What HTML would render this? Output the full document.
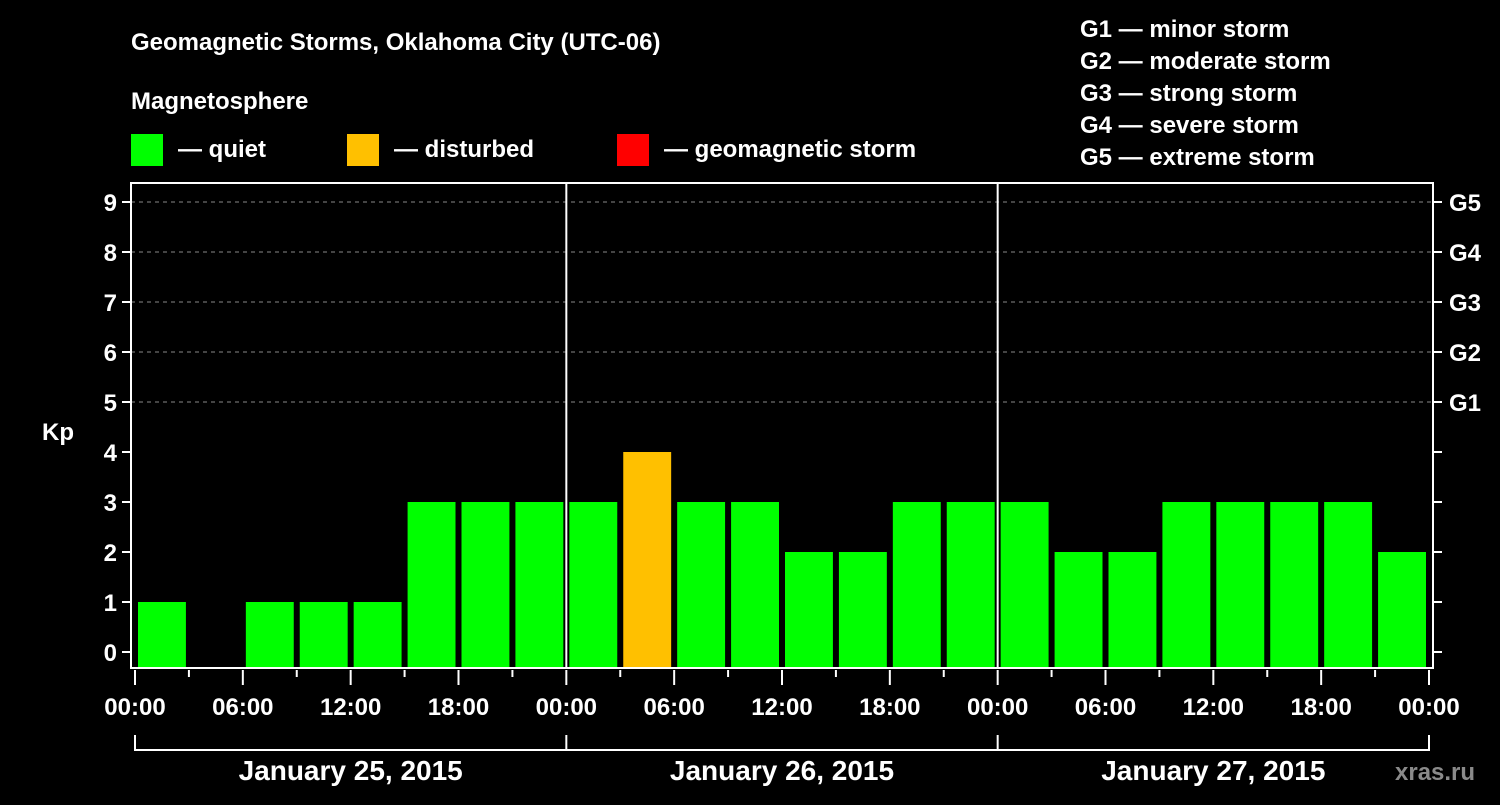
<!DOCTYPE html>
<html><head><meta charset="utf-8"><style>
body{margin:0;background:#000;}
svg text{font-family:"Liberation Sans",Arial,sans-serif;font-weight:bold;fill:#fff;}
</style></head><body>
<svg width="1500" height="800" xmlns="http://www.w3.org/2000/svg">
<rect width="1500" height="800" fill="#000"/>
<text x="131" y="50" font-size="24">Geomagnetic Storms, Oklahoma City (UTC-06)</text>
<text x="131" y="109" font-size="24">Magnetosphere</text>
<g><rect x="131" y="134" width="32" height="32" fill="#00ff00"/><text x="178" y="157" font-size="24">— quiet</text></g>
<g><rect x="347" y="134" width="32" height="32" fill="#ffc000"/><text x="394" y="157" font-size="24">— disturbed</text></g>
<g><rect x="617" y="134" width="32" height="32" fill="#ff0000"/><text x="664" y="157" font-size="24">— geomagnetic storm</text></g>
<g font-size="24">
<text x="1080" y="37">G1 — minor storm</text>
<text x="1080" y="69">G2 — moderate storm</text>
<text x="1080" y="101">G3 — strong storm</text>
<text x="1080" y="133">G4 — severe storm</text>
<text x="1080" y="165">G5 — extreme storm</text>
</g>
<text x="42" y="440" font-size="24">Kp</text>
<g id="grid"></g><g id="bars"></g><g id="axes"></g>
<text x="1395" y="780" font-size="24" fill="#888" style="fill:#8a8a8a">xras.ru</text>
</svg>
<script>
const kpValues=[1,0,1,1,1,3,3,3, 3,4,3,3,2,2,3,3, 3,2,2,3,3,3,3,2];
const dayLabels=["January 25, 2015","January 26, 2015","January 27, 2015"];
const hourLabels=["00:00","06:00","12:00","18:00"];
const gLabels=["G1","G2","G3","G4","G5"];
const NS="http://www.w3.org/2000/svg";
const X0=135,X1=1429,PT=183,PB=668,PL=131,PR=1433;
const xs=h=>X0+(X1-X0)*h/72;
const ys=v=>652-50*v;
function mk(tag,attrs,parent){const e=document.createElementNS(NS,tag);for(const k in attrs)e.setAttribute(k,attrs[k]);parent.appendChild(e);return e;}
const grid=document.getElementById('grid'),bars=document.getElementById('bars'),axes=document.getElementById('axes');
for(let v=5;v<=9;v++){const l=mk('line',{x1:PL,x2:PR,y1:ys(v),y2:ys(v),stroke:'#888','stroke-dasharray':'4,4','stroke-width':1},grid);

}
kpValues.forEach((v,i)=>{
 const x=xs(i*3)+3,w=xs(i*3+3)-xs(i*3)-6;
 const top=v>0?ys(v):PB;
 const c=v>=5?'#ff0000':(v>=4?'#ffc000':'#00ff00');
 const r=mk('rect',{x:x,y:top,width:w,height:PB-top,fill:c},bars);
 
 
});
// frame
const fr=mk('rect',{x:PL,y:PT,width:PR-PL,height:PB-PT,fill:'none',stroke:'#fff','stroke-width':2},axes);


for(let d=1;d<3;d++){const l=mk('line',{x1:xs(d*24),x2:xs(d*24),y1:PT,y2:PB,stroke:'#fff','stroke-width':2},axes);

}
for(let v=0;v<=9;v++){
 mk('line',{x1:PL-9,x2:PL,y1:ys(v),y2:ys(v),stroke:'#fff','stroke-width':2},axes);
 mk('line',{x1:PR,x2:PR+9,y1:ys(v),y2:ys(v),stroke:'#fff','stroke-width':2},axes);
 const t=mk('text',{x:PL-14,y:ys(v)+9,'font-size':24,'text-anchor':'end'},axes);t.textContent=v;
 
 
}
gLabels.forEach((g,i)=>{const t=mk('text',{x:PR+16,y:ys(5+i)+9,'font-size':24},axes);t.textContent=g;
 
 });
for(let h=0;h<=72;h+=3){
 const major=h%6===0;
 mk('line',{x1:xs(h),x2:xs(h),y1:PB+2,y2:PB+(major?17:9),stroke:'#fff','stroke-width':2},axes);
 if(major){const t=mk('text',{x:xs(h),y:715,'font-size':24,'text-anchor':'middle'},axes);t.textContent=hourLabels[(h/6)%4];
 
 }
}
mk('path',{d:`M${xs(0)} 735V750H${xs(72)}V735`,fill:'none',stroke:'#fff','stroke-width':2},axes);
for(let d=1;d<3;d++)mk('line',{x1:xs(d*24),x2:xs(d*24),y1:735,y2:750,stroke:'#fff','stroke-width':2},axes);
dayLabels.forEach((d,i)=>{const t=mk('text',{x:xs(i*24+12),y:780,'font-size':28,'text-anchor':'middle'},axes);t.textContent=d;
 
 });
</script>
</body></html>
